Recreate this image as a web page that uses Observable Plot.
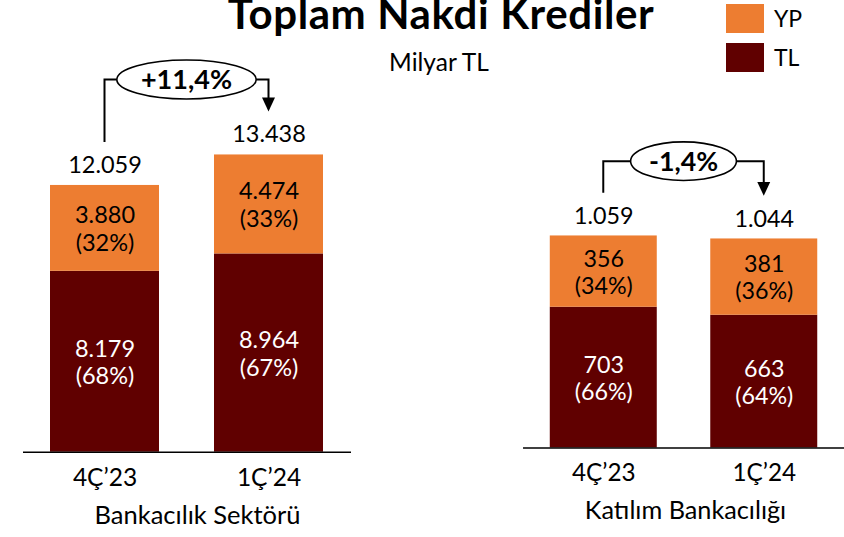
<!DOCTYPE html>
<html>
<head>
<meta charset="utf-8">
<script src="https://cdn.jsdelivr.net/npm/d3@7"></script>
<script src="https://cdn.jsdelivr.net/npm/@observablehq/plot@0.6"></script>
<style>
  html, body { margin: 0; padding: 0; background: #fff; overflow: hidden; }
  #wrap { position: relative; width: 844px; height: 537px; overflow: hidden; font-family: Lato, sans-serif; color: #000; }
  .abs { position: absolute; white-space: nowrap; }
  #title { left: 141px; width: 600px; text-align: center; top: -8px; font-size: 42px; line-height: 1; font-weight: 700; letter-spacing: 0.6px; }
  #subtitle { left: 339px; width: 200px; text-align: center; top: 50px; font-size: 24.5px; line-height: 1; }
  .sw { position: absolute; left: 726px; width: 38px; height: 29px; }
  .lg { position: absolute; left: 774px; height: 29px; line-height: 29px; font-size: 23px; }
  .panel { position: absolute; top: 0; }
</style>
</head>
<body>
<div id="wrap">
  <div id="title" class="abs">Toplam Nakdi Krediler</div>
  <div id="subtitle" class="abs">Milyar TL</div>
  <div id="legend"></div>
  <div id="left" class="panel" style="left:0px"></div>
  <div id="right" class="panel" style="left:420px"></div>
</div>
<script>
// ---- data ----
const periods = ["4Ç’23", "1Ç’24"];
const seriesNames = ["YP", "TL"];
const seriesColors = ["#ED7D31", "#600000"];

const bankTitle = "Bankacılık Sektörü";
const bankTL = [8179, 8964];
const bankYP = [3880, 4474];
const bankTLPct = [68, 67];
const bankYPPct = [32, 33];
const bankTotal = [12059, 13438];
const bankChange = "+11,4%";

const katTitle = "Katılım Bankacılığı";
const katTL = [703, 663];
const katYP = [356, 381];
const katTLPct = [66, 64];
const katYPPct = [34, 36];
const katTotal = [1059, 1044];
const katChange = "-1,4%";

// ---- helpers ----
const trLocale = d3.formatLocale({decimal: ",", thousands: ".", grouping: [3], currency: ["", ""]});
const fmt = trLocale.format(",d");

function rowsFor(tl, yp, tlPct, ypPct) {
  return periods.flatMap((p, i) => [
    {period: p, type: "TL", value: tl[i], pct: tlPct[i]},
    {period: p, type: "YP", value: yp[i], pct: ypPct[i]}
  ]);
}

// legend
const legend = document.getElementById("legend");
seriesNames.forEach((name, i) => {
  const top = 4 + i * 39;
  const sw = document.createElement("div");
  sw.className = "sw"; sw.style.top = top + "px"; sw.style.background = seriesColors[i];
  const lb = document.createElement("div");
  lb.className = "lg"; lb.style.top = top + "px"; lb.textContent = name;
  legend.appendChild(sw); legend.appendChild(lb);
});

function makePanel(cfg) {
  const rows = rowsFor(cfg.tl, cfg.yp, cfg.tlPct, cfg.ypPct);
  const totals = periods.map((p, i) => ({period: p, total: cfg.total[i]}));
  const segText = (type) => d => d.type === type ? `${fmt(d.value)}\n(${d.pct}%)` : "";
  const plot = Plot.plot({
    width: cfg.width,
    height: 537,
    marginLeft: cfg.marginLeft,
    marginRight: cfg.marginRight,
    marginTop: cfg.marginTop,
    marginBottom: 85.3,
    style: {fontFamily: "Lato, sans-serif", fontSize: "23px", color: "#000", background: "transparent", overflow: "visible"},
    x: {domain: periods, paddingInner: 0.334, paddingOuter: 0.167, label: null},
    y: {domain: [0, cfg.yMax], axis: null},
    color: {domain: seriesNames, range: seriesColors},
    marks: [
      Plot.barY(rows, {x: "period", y: "value", fill: "type"}),
      Plot.text(rows, Plot.stackY({x: "period", y: "value", z: "type", text: segText("YP"), fill: "#000", fontSize: 23.5, lineHeight: 1.17})),
      Plot.text(rows, Plot.stackY({x: "period", y: "value", z: "type", text: segText("TL"), fill: "#fff", fontSize: 23.5, lineHeight: 1.17})),
      Plot.text(totals, {x: "period", y: "total", text: d => fmt(d.total), lineAnchor: "bottom", dy: -12.5, fill: "#000", fontSize: 23.5}),
      Plot.ruleY([0], {stroke: "#000", strokeWidth: 1.5}),
      Plot.axisX({tickSize: 0, tickPadding: 16, fontSize: 24.5, fill: "#000", label: null}),
      Plot.text([cfg.title], {frameAnchor: "bottom", dy: 72, dx: cfg.titleDx, fill: "#000", fontSize: 25.5})
    ]
  });
  document.getElementById(cfg.el).appendChild(plot);

  // change annotation (bracket + ellipse + arrow), positioned through the plot's scales
  const sx = plot.scale("x"), sy = plot.scale("y");
  const bw = sx.bandwidth;
  const cxs = periods.map(p => sx.apply(p) + bw / 2);
  const tys = cfg.total.map(v => sy.apply(v));
  const level = Math.min(...tys) - 75;
  const start = tys[0] - 43;
  const tip = tys[1] - 43;
  const mid = (cxs[0] + cxs[1]) / 2;
  const g = d3.select(plot).append("g");
  const txt = g.append("text")
    .attr("x", mid).attr("y", level).attr("dy", "0.36em")
    .attr("text-anchor", "middle")
    .attr("font-weight", 700).attr("font-size", 27).attr("fill", "#000")
    .text(cfg.change);
  const tw = txt.node().getComputedTextLength();
  const rx = tw * 0.765, ry = 19.5;
  g.insert("ellipse", "text")
    .attr("cx", mid).attr("cy", level).attr("rx", rx).attr("ry", ry)
    .attr("fill", "#fff").attr("stroke", "#000").attr("stroke-width", 1.6);
  g.insert("path", "ellipse")
    .attr("d", `M${cxs[0]},${start}V${level}H${mid - rx}M${mid + rx},${level}H${cxs[1]}V${tip - 12}`)
    .attr("fill", "none").attr("stroke", "#000").attr("stroke-width", 2);
  g.append("path")
    .attr("d", `M${cxs[1]},${tip}L${cxs[1] - 6.5},${tip - 14}L${cxs[1] + 6.5},${tip - 14}Z`)
    .attr("fill", "#000");
}

makePanel({el: "left", width: 420, marginLeft: 23, marginRight: 69, marginTop: 9.3, yMax: 20000,
  tl: bankTL, yp: bankYP, tlPct: bankTLPct, ypPct: bankYPPct, total: bankTotal, change: bankChange,
  title: bankTitle, titleDx: 10});
makePanel({el: "right", width: 428, marginLeft: 104, marginRight: 0, marginTop: 47.5, yMax: 2000,
  tl: katTL, yp: katYP, tlPct: katTLPct, ypPct: katYPPct, total: katTotal, change: katChange,
  title: katTitle, titleDx: 1.5});
</script>
</body>
</html>
